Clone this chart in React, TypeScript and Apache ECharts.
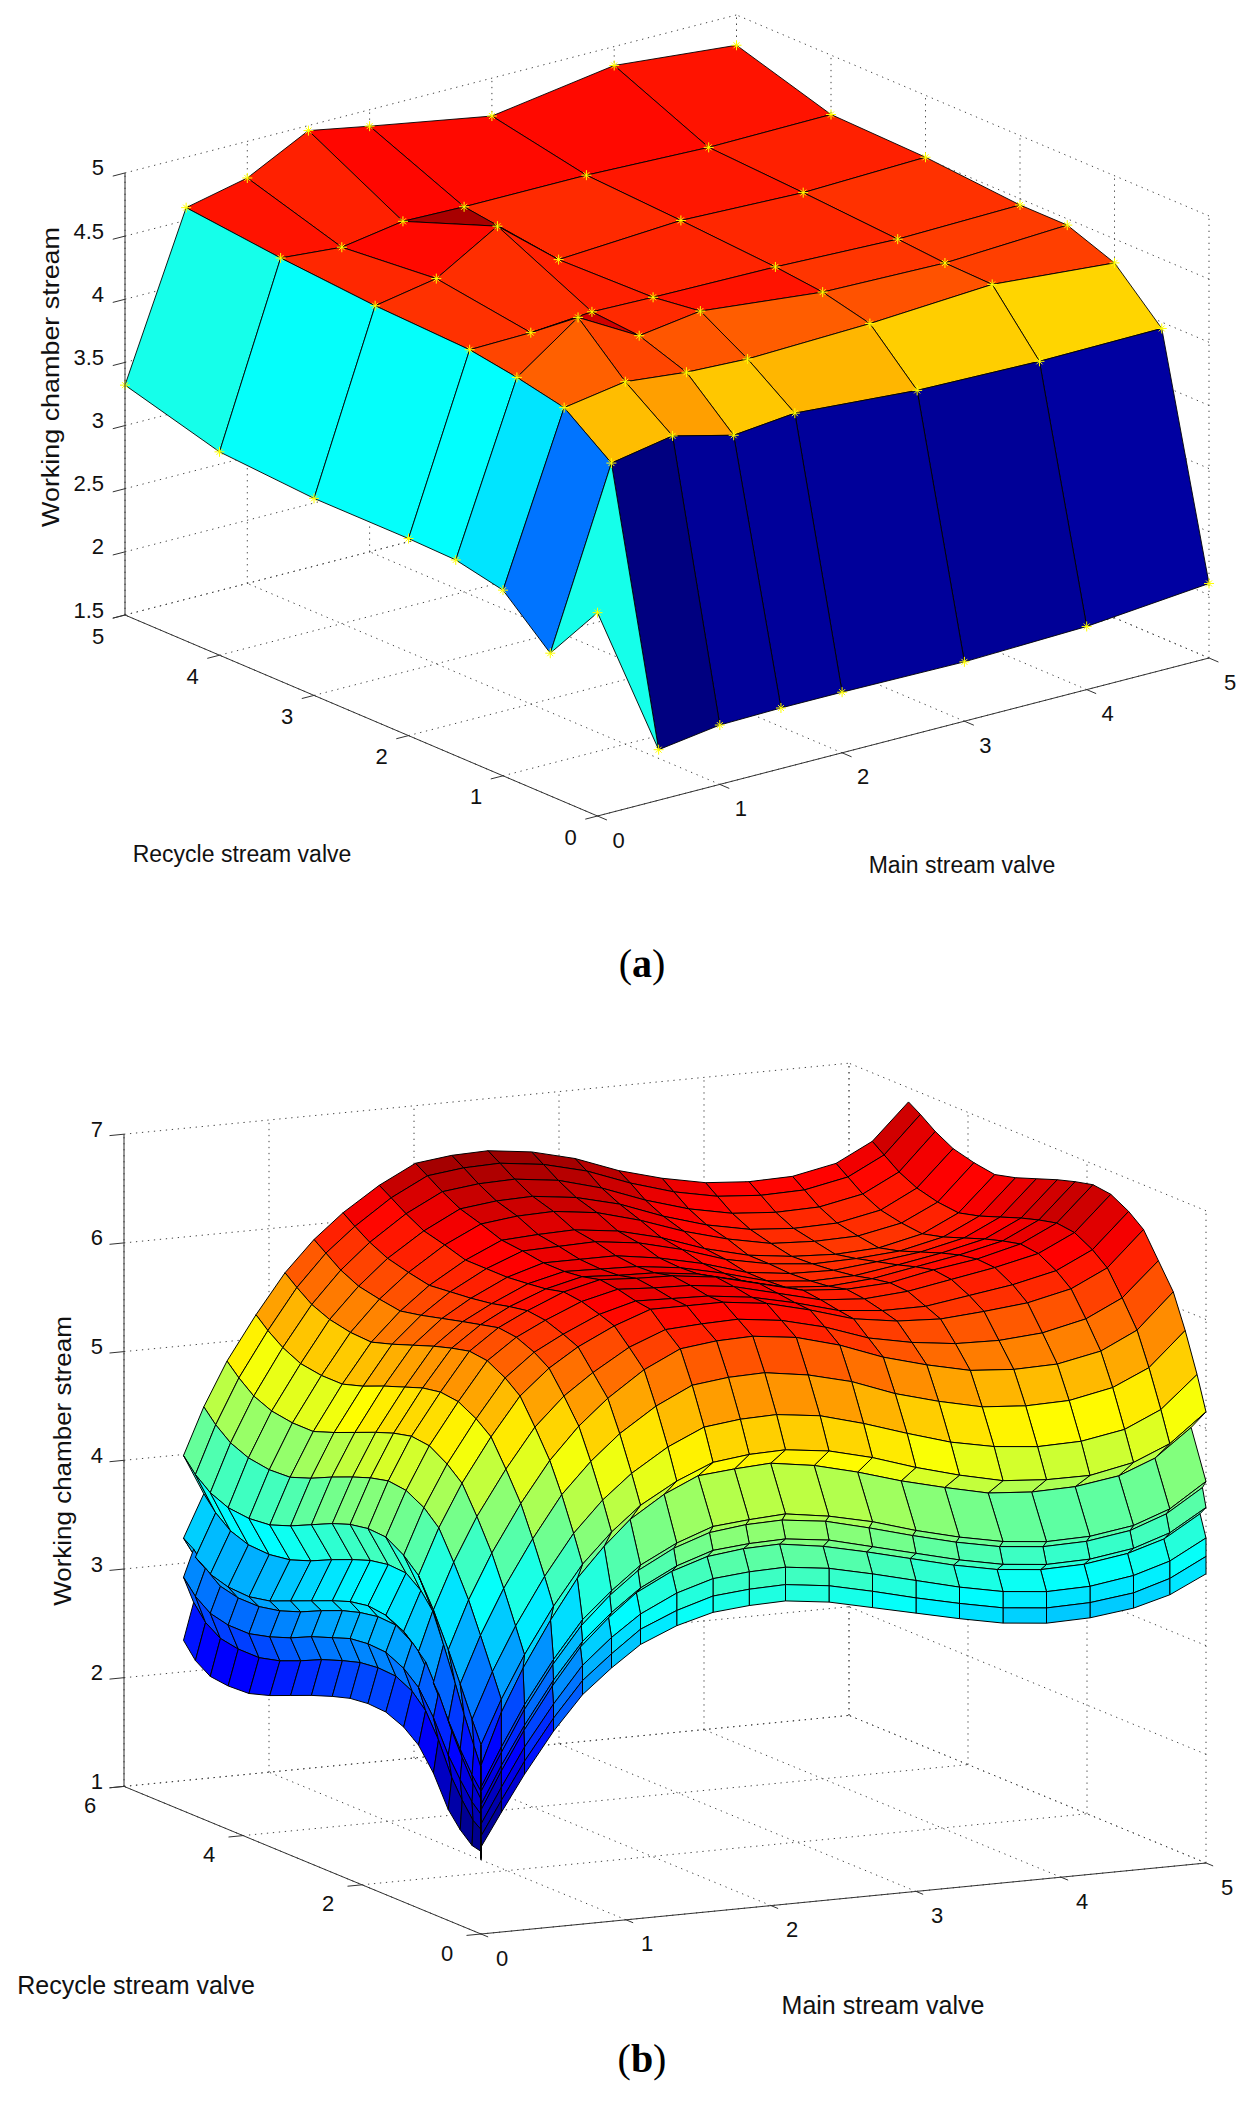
import React, { useEffect, useRef } from "react";
import * as echarts from "echarts";

// ---------- panel (a) ----------
const mainValveA = [0, 0.5, 1, 1.5, 2, 3, 4, 5];
const recycleValveA = [0, 0.5, 1, 1.5, 2, 3, 4, 5];
const streamA = [
  [3.11, 1.9, 1.97, 1.98, 1.98, 1.97, 2.0, 2.09],
  [2.63, 4.01, 4.1, 3.98, 4.03, 3.96, 3.94, 3.95],
  [2.97, 4.29, 4.37, 4.32, 4.3, 4.33, 4.39, 4.31],
  [3.05, 4.37, 4.72, 4.45, 4.52, 4.42, 4.4, 4.45],
  [3.06, 4.43, 4.44, 4.48, 4.47, 4.46, 4.43, 4.45],
  [3.06, 4.46, 4.55, 4.84, 4.45, 4.51, 4.48, 4.51],
  [3.11, 4.52, 4.48, 4.56, 4.55, 4.55, 4.52, 4.53],
  [3.32, 4.6, 4.71, 4.96, 4.87, 4.7, 4.85, 4.76],
];
const xTicksA = [0, 1, 2, 3, 4, 5];
const yTicksA = [0, 1, 2, 3, 4, 5];
const zTicksA = [1.5, 2, 2.5, 3, 3.5, 4, 4.5, 5];

// ---------- panel (b) ----------
const mainValveB = [0, 0, 0, 0, 0, 0, 0, 0.14, 0.3, 0.5, 0.7, 0.9, 1.1, 1.35, 1.6, 1.85, 2.1, 2.4, 2.7, 3.0, 3.3, 3.6, 3.9, 4.2, 4.5, 4.75, 5];
const recycleValveB = [0, 0, 0, 0, 0, 0, 0, 0, 0, 0.15, 0.35, 0.55, 0.8, 1.05, 1.3, 1.6, 1.9, 2.2, 2.5, 2.85, 3.2, 3.55, 3.9, 4.25, 4.55, 4.8, 5];
// the overlapping sheets at the two outer edges of the surface
const mainFoldB = [0, 0.07, 0, 0.07, 0, 0.14, 0];
const recycleFoldB = [0, 0, 0, 0.1, 0, 0.06, 0, 0.25, 0];
const mainFoldStrength = [0, 0, 0, 0, 0, 0, 0, 0, 0, 0.1, 0.2, 0.35, 0.5, 0.7, 0.85, 1, 1, 1, 1, 1, 1, 1, 1, 1, 1, 1, 1];
const recycleFoldStrength = [0, 0, 0, 0, 0, 0, 0, 0, 0.1, 0.2, 0.35, 0.5, 0.7, 0.85, 1, 1, 1, 1, 1, 1, 1, 1, 1, 1, 1, 1, 1];
// hundredths of a unit, one row per recycle node
const streamB = [
  [168,170,172,174,175,178,180,210,243,280,311,333,352,366,375,378,379,374,365,356,347,339,335,336,341,350,366],
  [169,173,176,180,181,186,190,221,255,292,324,346,366,380,390,393,394,389,380,370,361,353,349,350,355,365,382],
  [170,176,181,185,188,195,201,233,268,305,338,361,380,396,406,409,410,405,396,386,376,368,364,365,371,381,399],
  [172,180,186,193,196,206,214,248,283,321,354,378,398,414,424,428,429,423,414,404,394,386,382,383,389,399,419],
  [172,181,188,195,198,209,219,253,288,327,360,384,404,421,432,435,436,431,421,411,401,393,389,390,396,407,427],
  [174,185,193,202,206,219,231,265,302,341,374,399,419,436,447,451,452,447,437,426,416,408,404,405,411,423,444],
  [174,186,195,204,208,222,235,270,307,346,380,404,425,442,454,457,459,453,444,432,422,414,410,411,417,429,451],
  [175,190,201,213,218,237,255,302,340,381,416,442,463,482,495,498,500,494,484,472,462,453,450,451,457,470,495],
  [176,196,210,224,231,253,274,314,353,395,431,458,480,499,513,517,518,513,503,490,479,470,467,467,475,489,515],
  [178,201,218,235,243,269,294,336,376,419,456,484,506,527,542,546,547,542,531,518,506,498,494,495,502,517,546],
  [188,215,234,254,262,293,322,365,406,449,487,515,538,560,576,580,581,575,565,550,539,530,527,528,536,551,582],
  [202,231,252,274,284,317,349,393,434,477,514,543,566,589,605,609,610,605,594,579,568,559,556,557,565,581,613],
  [230,260,281,303,313,347,380,422,462,503,539,565,584,604,617,619,620,615,605,591,583,578,577,580,589,605,636],
  [250,281,303,326,336,372,406,448,487,527,562,585,602,618,630,630,630,625,615,603,597,595,598,602,611,627,659],
  [261,293,315,338,349,385,419,461,499,538,573,594,608,623,632,631,630,625,616,605,601,601,607,613,622,638,670],
  [268,300,323,347,357,394,429,470,509,547,582,601,614,628,636,634,633,628,618,608,605,608,615,622,631,647,679],
  [269,301,324,348,359,395,430,472,511,549,584,603,616,630,638,636,635,630,620,610,607,609,617,623,633,649,681],
  [267,299,322,345,356,392,427,468,507,546,580,599,613,626,634,632,631,626,616,606,603,606,613,620,629,645,677],
  [262,294,316,340,350,386,421,462,501,540,575,595,609,624,632,631,630,625,616,605,601,602,608,615,624,640,672],
  [255,287,309,332,342,378,412,454,493,533,568,590,606,622,632,632,632,626,617,605,600,599,603,608,617,633,665],
  [247,278,300,323,334,369,403,445,485,525,561,585,604,622,635,636,637,632,622,609,601,597,598,601,610,626,658],
  [239,270,293,316,326,362,396,438,478,519,555,581,602,622,637,639,640,635,625,611,601,596,594,596,605,621,653],
  [233,265,288,312,322,359,394,437,478,519,556,584,606,628,644,648,649,644,633,619,608,600,598,599,607,623,656],
  [232,265,288,312,323,360,396,440,481,522,560,588,611,633,650,654,655,650,640,625,613,605,602,603,611,628,661],
  [234,268,292,316,328,366,403,447,488,530,567,596,619,642,659,663,664,659,648,633,621,613,610,611,619,636,670],
  [243,277,302,327,338,377,414,458,499,540,577,606,628,651,668,672,673,668,658,643,631,623,620,621,629,646,680],
  [257,291,315,340,351,390,427,470,510,550,586,614,636,658,675,679,680,675,665,650,639,631,628,629,637,654,687],
];
const xTicksB = [0, 1, 2, 3, 4, 5];
const yTicksB = [0, 2, 4, 6];
const zTicksB = [1, 2, 3, 4, 5, 6, 7];

const xTitle = "Main stream valve";
const yTitle = "Recycle stream valve";
const zTitle = "Working chamber stream";

// ---------- view set-up ----------
type View = { ox: number; oy: number; xx: number; xy: number; yx: number; yy: number; zy: number; z0: number };
const viewA: View = { ox: 597.5, oy: 816, xx: 122.3, xy: -31.6, yx: -94.5, yy: -40.2, zy: -126.3, z0: 1.5 };
const viewB: View = { ox: 481, oy: 1934, xx: 145, xy: -14.2, yx: -59.5, yy: -24.6, zy: -108.7, z0: 1 };

const project = (v: View, x: number, y: number, z: number): [number, number] => [
  v.ox + v.xx * x + v.yx * y,
  v.oy + v.xy * x + v.yy * y + v.zy * (z - v.z0),
];

const clamp = (t: number) => Math.max(0, Math.min(1, t));
const jet = (t: number) => {
  const r = clamp(1.5 - Math.abs(4 * t - 3));
  const g = clamp(1.5 - Math.abs(4 * t - 2));
  const b = clamp(1.5 - Math.abs(4 * t - 1));
  return `rgb(${Math.round(r * 255)},${Math.round(g * 255)},${Math.round(b * 255)})`;
};

type NodeFn = (i: number, j: number) => number;

const surfaceSeries = (v: View, nx: number, ny: number, xAt: NodeFn, yAt: NodeFn, zs: number[][], strokeWidth: number) => {
  const flat = zs.flat();
  const lo = Math.min(...flat);
  const hi = Math.max(...flat);
  const cells: number[][] = [];
  for (let j = ny - 2; j >= 0; j--) for (let i = nx - 2; i >= 0; i--) cells.push([i, j]);
  return {
    type: "custom",
    coordinateSystem: "cartesian2d",
    xAxisIndex: 0,
    yAxisIndex: 0,
    silent: true,
    progressive: 0,
    clip: false,
    data: cells,
    renderItem: (_p: any, api: any) => {
      const i = api.value(0);
      const j = api.value(1);
      const corner = (a: number, b: number) => api.coord(project(v, xAt(a, b), yAt(a, b), zs[b][a]));
      return {
        type: "polygon",
        shape: { points: [corner(i, j), corner(i + 1, j), corner(i + 1, j + 1), corner(i, j + 1)] },
        style: { fill: jet((zs[j][i] - lo) / (hi - lo)), stroke: "#000", lineWidth: strokeWidth, lineJoin: "round" },
      };
    },
  };
};

const markerSeries = (v: View, xs: number[], ys: number[], zs: number[][]) => {
  const nodes: number[][] = [];
  ys.forEach((_, j) => xs.forEach((__, i) => nodes.push([i, j])));
  return {
    type: "custom",
    coordinateSystem: "cartesian2d",
    silent: true,
    progressive: 0,
    clip: false,
    data: nodes,
    renderItem: (_p: any, api: any) => {
      const i = api.value(0);
      const j = api.value(1);
      const [cx, cy] = api.coord(project(v, xs[i], ys[j], zs[j][i]));
      const style = { stroke: "#ffff00", lineWidth: 1, fill: "none" };
      const seg = (dx: number, dy: number) => ({
        type: "line",
        shape: { x1: cx - dx, y1: cy - dy, x2: cx + dx, y2: cy + dy },
        style,
      });
      return { type: "group", children: [seg(5, 0), seg(0, 5), seg(3, 3), seg(3, -3)] };
    },
  };
};

type Seg = [number, number, number, number, number, number];
const frameSeries = (v: View, xt: number[], yt: number[], zt: number[], solid: boolean, xMax: number, yMax: number, zMax: number) => {
  const x0 = xt[0];
  const y0 = yt[0];
  const z0 = zt[0];
  const segs: Seg[] = [];
  if (!solid) {
    xt.forEach((t) => {
      segs.push([t, y0, z0, t, yMax, z0]);
      segs.push([t, yMax, z0, t, yMax, zMax]);
    });
    yt.forEach((t) => {
      segs.push([x0, t, z0, xMax, t, z0]);
      segs.push([xMax, t, z0, xMax, t, zMax]);
    });
    zt.forEach((t) => {
      segs.push([x0, yMax, t, xMax, yMax, t]);
      segs.push([xMax, y0, t, xMax, yMax, t]);
    });
  } else {
    segs.push([x0, yMax, z0, x0, yMax, zMax]);
    segs.push([x0, yMax, z0, x0, y0, z0]);
    segs.push([x0, y0, z0, xMax, y0, z0]);
    const tx = xMax * 0.02;
    const ty = yMax * 0.02;
    zt.forEach((t) => segs.push([x0, yMax, t, x0 - tx, yMax, t]));
    yt.forEach((t) => segs.push([x0, t, z0, x0 - tx, t, z0]));
    xt.forEach((t) => segs.push([t, y0, z0, t, y0 - ty, z0]));
  }
  return {
    type: "custom",
    coordinateSystem: "cartesian2d",
    silent: true,
    progressive: 0,
    clip: false,
    data: segs,
    renderItem: (_p: any, api: any) => {
      const a = api.coord(project(v, api.value(0), api.value(1), api.value(2)));
      const b = api.coord(project(v, api.value(3), api.value(4), api.value(5)));
      return {
        type: "line",
        shape: { x1: a[0], y1: a[1], x2: b[0], y2: b[1] },
        style: solid
          ? { stroke: "#333", lineWidth: 1 }
          : { stroke: "#444", lineWidth: 1, lineDash: [1.3, 4.7] },
      };
    },
  };
};

const SANS = "'Liberation Sans', Arial, sans-serif";
const label = (text: string | number, x: number, y: number, size: number, align = "center", rotation = 0, stretch = 1) => ({
  type: "text",
  x,
  y,
  rotation,
  scaleX: stretch,
  silent: true,
  style: { text: String(text), fontSize: size, fontFamily: SANS, fill: "#111", align, verticalAlign: "middle" },
});

const tickLabels = (v: View, xt: number[], yt: number[], zt: number[], xMax: number, yMax: number, yOff: [number, number]) => {
  const out: any[] = [];
  zt.forEach((t) => {
    const [px, py] = project(v, 0, yMax, t);
    out.push(label(t, px - 21, py - 5, 22, "right"));
  });
  yt.forEach((t) => {
    const [px, py] = project(v, 0, t, v.z0);
    out.push(label(t, px + yOff[0], py + yOff[1], 22));
  });
  xt.forEach((t) => {
    const [px, py] = project(v, t, 0, v.z0);
    out.push(label(t, px + 21, py + 24, 22));
  });
  return out;
};

const caption = (letter: string, x: number, y: number) => ({
  type: "text",
  x,
  y,
  silent: true,
  style: {
    text: `{r|(}{b|${letter}}{r|)}`,
    align: "center",
    verticalAlign: "middle",
    rich: {
      r: { fontSize: 40, fontFamily: "'Liberation Serif', serif", fill: "#000" },
      b: { fontSize: 40, fontFamily: "'Liberation Serif', serif", fontWeight: "bold", fill: "#000" },
    },
  },
});

const xNodeA: NodeFn = (i) => mainValveA[i];
const yNodeA: NodeFn = (_i, j) => recycleValveA[j];
const xNodeB: NodeFn = (i, j) => mainValveB[i] + (mainFoldB[i] ?? 0) * mainFoldStrength[j];
const yNodeB: NodeFn = (i, j) => recycleValveB[j] + (recycleFoldB[j] ?? 0) * recycleFoldStrength[i];

export default function App() {
  const ref = useRef<HTMLDivElement>(null);
  useEffect(() => {
    if (!ref.current) return;
    const chart = echarts.init(ref.current, undefined, { renderer: "svg" });
    chart.setOption({
      animation: false,
      backgroundColor: "#fff",
      grid: { left: 0, top: 0, right: 0, bottom: 0 },
      xAxis: { type: "value", min: 0, max: 1260, show: false },
      yAxis: { type: "value", min: 0, max: 2106, inverse: true, show: false },
      series: [
        frameSeries(viewA, xTicksA, yTicksA, zTicksA, false, 5, 5, 5),
        surfaceSeries(viewA, mainValveA.length, recycleValveA.length, xNodeA, yNodeA, streamA, 0.9),
        markerSeries(viewA, mainValveA, recycleValveA, streamA),
        frameSeries(viewA, xTicksA, yTicksA, zTicksA, true, 5, 5, 5),
        frameSeries(viewB, xTicksB, yTicksB, zTicksB, false, 5, 6, 7),
        surfaceSeries(viewB, mainValveB.length, recycleValveB.length, xNodeB, yNodeB, streamB.map((r) => r.map((n) => n / 100)), 1),
        frameSeries(viewB, xTicksB, yTicksB, zTicksB, true, 5, 6, 7),
      ],
      graphic: {
        elements: [
          ...tickLabels(viewA, xTicksA, yTicksA, zTicksA, 5, 5, [-27, 21]),
          ...tickLabels(viewB, xTicksB, yTicksB, zTicksB, 5, 6, [-34, 19]),
          label(yTitle, 242, 854, 23),
          label(xTitle, 962, 865, 23),
          label(zTitle, 51, 377, 23, "center", Math.PI / 2, 1.17),
          label(yTitle, 136, 1985, 25),
          label(xTitle, 883, 2005, 25),
          label(zTitle, 63, 1461, 23, "center", Math.PI / 2, 1.13),
          caption("a", 642, 963),
          caption("b", 642, 2058),
        ],
      },
    });
    return () => chart.dispose();
  }, []);
  return <div ref={ref} style={{ position: "absolute", left: 0, top: 0, width: 1260, height: 2106 }} />;
}
